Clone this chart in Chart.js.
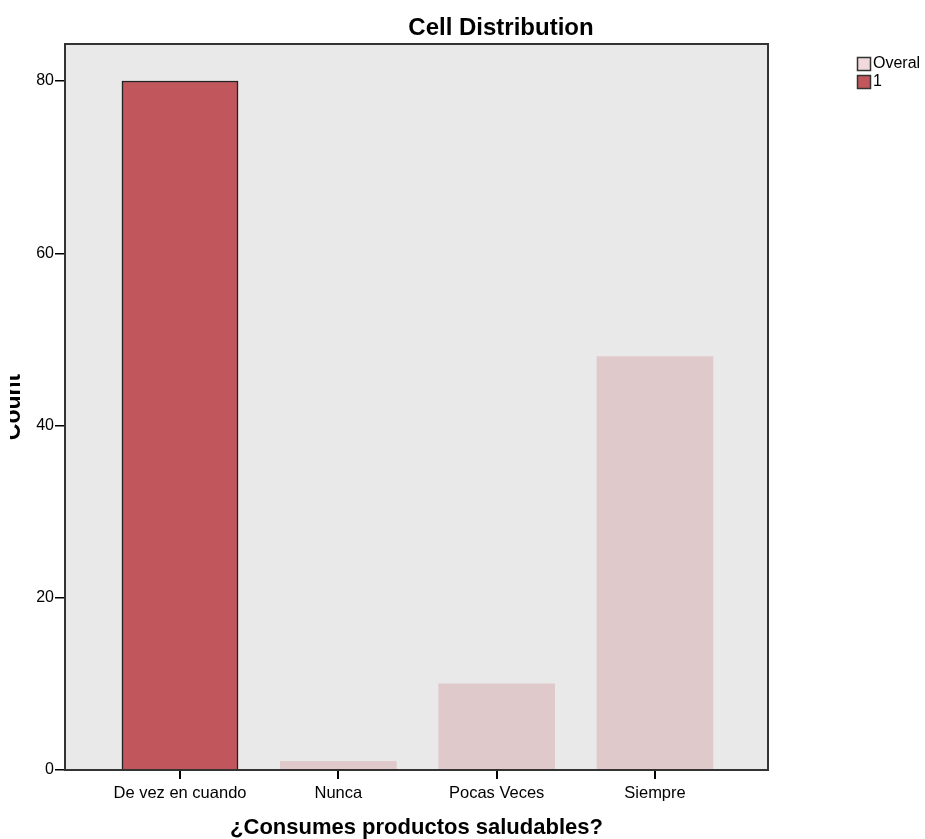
<!DOCTYPE html>
<html>
<head>
<meta charset="utf-8">
<script src="https://cdn.jsdelivr.net/npm/chart.js@4.4.0/dist/chart.umd.min.js"></script>
<style>
  html, body { margin: 0; padding: 0; background: #fff; }
  #wrap { width: 925px; height: 839px; }
</style>
</head>
<body>
<div id="wrap"><canvas id="myChart" width="925" height="839"></canvas></div>
<script>
const categories = ["De vez en cuando", "Nunca", "Pocas Veces", "Siempre"];
const overallCounts = [80, 1, 10, 48];
const cellCounts = [80, null, null, null];
const yTicks = [0, 20, 40, 60, 80];
const legendLabels = ["Overal", "1"];

const FONT = "'Liberation Sans', Arial, sans-serif";
const RED = "rgb(193, 87, 92)";
const PINK = "rgb(224, 201, 203)";
const PINK_LEGEND = "rgb(241, 218, 220)";

function toPoints(arr) {
  let pts = [];
  arr.forEach((v, i) => {
    if (v !== null) pts.push({ x: i, y: v });
  });
  return pts;
}

const framePlugin = {
  id: "frame",
  beforeDraw(chart) {
    const { ctx, chartArea: a } = chart;
    ctx.save();
    ctx.fillStyle = "rgb(233, 233, 233)";
    ctx.fillRect(a.left, a.top, a.right - a.left, a.bottom - a.top);
    ctx.restore();
  },
  afterDraw(chart) {
    const { ctx, chartArea: a } = chart;
    ctx.save();
    ctx.strokeStyle = "#333";
    ctx.lineWidth = 2;
    ctx.strokeRect(a.left, a.top, a.right - a.left, a.bottom - a.top);

    // title
    ctx.fillStyle = "#000";
    ctx.font = "bold 24px " + FONT;
    ctx.textAlign = "center";
    ctx.textBaseline = "alphabetic";
    ctx.fillText("Cell Distribution", 501, 35);

    // y title, cut at the left edge like the original
    ctx.save();
    ctx.beginPath();
    ctx.rect(10, 0, 60, 839);
    ctx.clip();
    ctx.translate(20, (a.top + a.bottom) / 2);
    ctx.rotate(-Math.PI / 2);
    ctx.font = "bold 23px " + FONT;
    ctx.fillText("Count", 0, 0);
    ctx.restore();

    // legend
    const swatches = [PINK_LEGEND, RED];
    ctx.font = "16px " + FONT;
    ctx.textAlign = "left";
    ctx.textBaseline = "middle";
    legendLabels.forEach((lab, i) => {
      const y = 57 + i * 18;
      ctx.fillStyle = swatches[i];
      ctx.fillRect(857, y, 14, 14);
      ctx.strokeStyle = "#333";
      ctx.lineWidth = 1.5;
      ctx.strokeRect(857.5, y + 0.5, 13, 13);
      ctx.fillStyle = "#000";
      ctx.fillText(lab, 873, y + 7);
    });
    ctx.restore();
  },
};

const ctx = document.getElementById("myChart").getContext("2d");
const myChart = new Chart(ctx, {
  type: "bar",
  data: {
    datasets: [
      {
        label: legendLabels[1],
        data: toPoints(cellCounts),
        backgroundColor: RED,
        borderColor: "#222",
        borderWidth: 1.5,
        order: 0,
      },
      {
        label: legendLabels[0],
        data: toPoints(overallCounts),
        backgroundColor: PINK,
        borderWidth: 0,
        order: 1,
      },
    ],
  },
  options: {
    responsive: false,
    animation: false,
    grouped: false,
    barThickness: 116,
    layout: { padding: { left: 0, top: 44, right: 157, bottom: 0 } },
    plugins: {
      legend: { display: false },
      title: { display: false },
      tooltip: { enabled: false },
    },
    scales: {
      x: {
        type: "linear",
        offset: false,
        min: -0.7263,
        max: 3.7137,
        afterBuildTicks: (axis) => {
          axis.ticks = categories.map((c, i) => ({ value: i }));
        },
        afterFit: (scale) => {
          scale.height = 69;
        },
        ticks: {
          callback: (v) => categories[v],
          autoSkip: false,
          maxRotation: 0,
          color: "#000",
          padding: 5,
          font: { family: FONT, size: 16.5 },
        },
        grid: {
          offset: false,
          drawOnChartArea: false,
          drawTicks: true,
          tickLength: 9,
          color: "#000",
          lineWidth: 2,
        },
        border: { color: "#333", width: 2 },
        title: {
          display: true,
          text: "¿Consumes productos saludables?",
          color: "#000",
          font: { family: FONT, size: 22, weight: "bold" },
          padding: { top: 0, bottom: -2 },
        },
      },
      y: {
        min: 0,
        max: 84.3,
        afterBuildTicks: (axis) => {
          axis.ticks = yTicks.map((v) => ({ value: v }));
        },
        afterFit: (scale) => {
          scale.width = 65;
        },
        ticks: {
          color: "#000",
          padding: 1,
          font: { family: FONT, size: 16 },
        },
        grid: {
          drawOnChartArea: false,
          drawTicks: true,
          tickLength: 10,
          color: "#000",
          lineWidth: 1.5,
        },
        border: { color: "#333", width: 2 },
      },
    },
  },
  plugins: [framePlugin],
});
</script>
</body>
</html>
